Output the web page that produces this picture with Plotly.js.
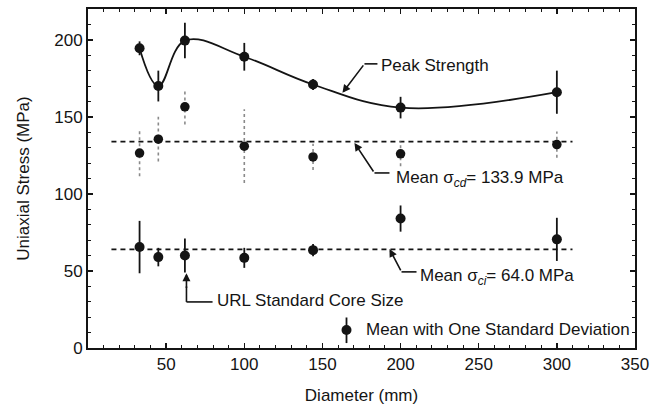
<!DOCTYPE html>
<html>
<head>
<meta charset="utf-8">
<script src="https://cdn.plot.ly/plotly-3.0.1.min.js"></script>
<style>html,body{margin:0;padding:0;background:#fff;}#chart{width:661px;height:405px;}</style>
</head>
<body>
<div id="chart"></div>
<script>
// Diameters (mm)
var diameters = [33, 45, 62, 100, 144, 200, 300];
// Peak strength mean and standard deviation (MPa)
var peakMean = [194.5, 170, 199.5, 189, 171, 156, 166];
var peakSD   = [4.5, 10, 11.5, 9, 3.5, 7, 14];
// Crack damage stress sigma_cd
var cdMean = [126.5, 135.5, 156.5, 131, 124, 126, 132];
var cdSD   = [15, 14.5, 11.5, 24, 8.5, 8, 8.5];
// Crack initiation stress sigma_ci
var ciMean = [65.5, 59, 60, 58.5, 63.5, 84, 70.5];
var ciSD   = [17, 6, 11, 6.5, 4, 8.5, 14];
// Mean lines
var meanCd = 133.9;
var meanCi = 64.0;
var meanLineX = [15, 310];
var xTicks = [50, 100, 150, 200, 250, 300, 350];
var yTicks = [0, 50, 100, 150, 200];

var FONT = 'Liberation Sans, Arial, Helvetica, sans-serif';
var INK = '#141414';
var FS = 17;

// dotted error bars for sigma_cd built from the data
var cdBarX = [], cdBarY = [];
for (var i = 0; i < diameters.length; i++) {
  cdBarX.push(diameters[i], diameters[i], null);
  cdBarY.push(cdMean[i] - cdSD[i], cdMean[i] + cdSD[i], null);
}

var traces = [
  { x: meanLineX, y: [meanCd, meanCd], mode: 'lines', hoverinfo: 'skip',
    line: {color: INK, width: 1.6, dash: '5px,4px'} },
  { x: meanLineX, y: [meanCi, meanCi], mode: 'lines', hoverinfo: 'skip',
    line: {color: INK, width: 1.6, dash: '5px,4px'} },
  { x: diameters, y: peakMean, mode: 'lines',
    line: {shape: 'spline', smoothing: 1.1, color: INK, width: 1.8} },
  { x: diameters, y: peakMean, mode: 'markers',
    marker: {color: INK, size: 10, symbol: 'circle'},
    error_y: {type: 'data', array: peakSD, visible: true, color: INK, thickness: 1.8, width: 0} },
  { x: cdBarX, y: cdBarY, mode: 'lines', connectgaps: false,
    line: {color: '#8a8a8a', width: 1.6, dash: 'dot'} },
  { x: diameters, y: cdMean, mode: 'markers',
    marker: {color: INK, size: 9.5, symbol: 'circle'} },
  { x: diameters, y: ciMean, mode: 'markers',
    marker: {color: INK, size: 10, symbol: 'circle'},
    error_y: {type: 'data', array: ciSD, visible: true, color: INK, thickness: 1.8, width: 0} }
];

function seg(x0, y0, x1, y1) {
  return {type: 'line', xref: 'x', yref: 'y', x0: x0, y0: y0, x1: x1, y1: y1,
          line: {color: INK, width: 1.6}};
}
function arrow(xTip, yTip, xTail, yTail) {
  return {x: xTip, y: yTip, ax: xTail, ay: yTail, axref: 'x', ayref: 'y', xref: 'x', yref: 'y',
          text: '', showarrow: true, arrowhead: 2, arrowsize: 1, arrowwidth: 1.6, arrowcolor: INK,
          standoff: 0, startstandoff: 0};
}
function label(x, y, txt) {
  return {x: x, y: y, xref: 'x', yref: 'y', text: txt, showarrow: false, xanchor: 'left', yanchor: 'middle',
          font: {family: FONT, size: FS, color: INK}};
}

var layout = {
  width: 661, height: 405,
  margin: {l: 88, r: 26, t: 9, b: 57},
  paper_bgcolor: '#fff', plot_bgcolor: '#fff',
  showlegend: false,
  font: {family: FONT, size: FS, color: INK},
  xaxis: {
    range: [0, 350], tickvals: xTicks, ticks: 'inside', ticklen: 5, tickwidth: 1.5, tickcolor: INK,
    showline: true, linecolor: INK, linewidth: 2, mirror: 'allticks', showgrid: false, zeroline: false,
    minor: {dtick: 10, ticks: 'inside', ticklen: 3, tickcolor: INK, tickwidth: 1, showgrid: false},
    tickfont: {family: FONT, size: FS, color: INK},
    title: {text: 'Diameter (mm)', font: {family: FONT, size: FS, color: INK}, standoff: 20}
  },
  yaxis: {
    range: [0, 220], tickvals: yTicks, ticks: 'inside', ticklen: 5, tickwidth: 1.5, tickcolor: INK,
    showline: true, linecolor: INK, linewidth: 2, mirror: 'allticks', showgrid: false, zeroline: false,
    minor: {dtick: 10, ticks: 'inside', ticklen: 3, tickcolor: INK, tickwidth: 1, showgrid: false},
    tickfont: {family: FONT, size: FS, color: INK},
    title: {text: 'Uniaxial Stress (MPa)', font: {family: FONT, size: FS, color: INK}, standoff: 20}
  },
  shapes: [
    seg(176.9, 184.4, 185.2, 184.4),
    seg(183.3, 113.6, 192.9, 113.6),
    seg(200.6, 49.4, 210.2, 49.4),
    seg(63, 40, 63, 29.9),
    seg(63, 29.9, 79.7, 29.9),
    {type: 'line', xref: 'x', yref: 'y', x0: 165.4, y0: 3.2, x1: 165.4, y1: 19.8, line: {color: INK, width: 1.8}},
    {type: 'circle', xref: 'x', yref: 'y', xsizemode: 'pixel', ysizemode: 'pixel', xanchor: 165.4, yanchor: 11.7,
     x0: -5, x1: 5, y0: -5, y1: 5, fillcolor: INK, line: {color: INK, width: 0}}
  ],
  annotations: [
    arrow(162.8, 165.6, 176.9, 184.4),
    arrow(170.5, 133.1, 183.3, 113.6),
    arrow(192.9, 64.3, 200.6, 49.4),
    arrow(63, 48.5, 63, 38),
    label(186.0, 183.4, 'Peak Strength'),
    label(196.0, 109.5, 'Mean σ<sub><i>cd</i></sub>= 133.9 MPa'),
    label(211.0, 46.3, 'Mean σ<sub><i>ci</i></sub>= 64.0 MPa'),
    label(81.5, 31, 'URL Standard Core Size'),
    label(176.5, 11.7, 'Mean with One Standard Deviation')
  ]
};

Plotly.newPlot('chart', traces, layout, {staticPlot: true, displayModeBar: false});
</script>
</body>
</html>
